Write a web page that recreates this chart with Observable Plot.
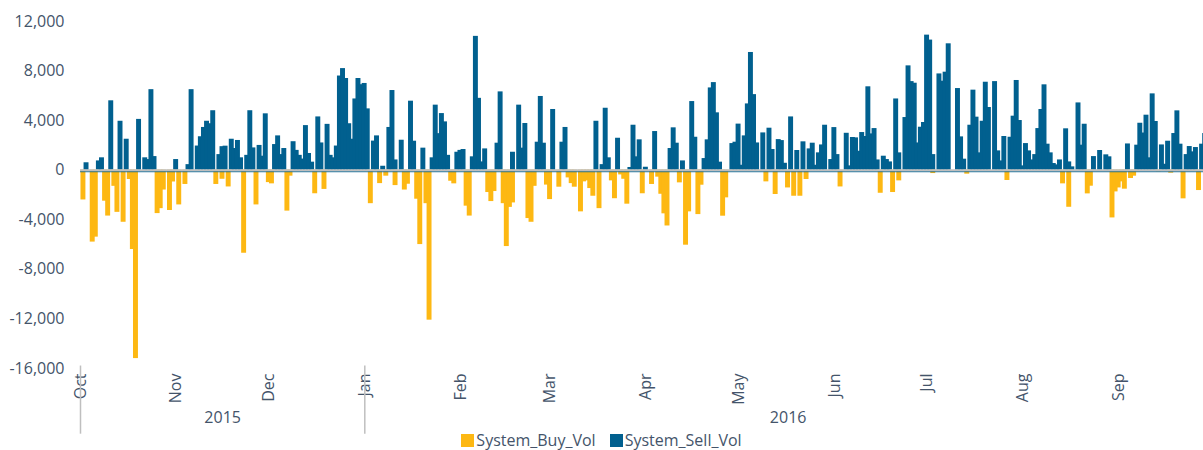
<!DOCTYPE html>
<html><head><meta charset="utf-8">
<script src="https://cdn.jsdelivr.net/npm/d3@7"></script>
<script src="https://cdn.jsdelivr.net/npm/@observablehq/plot@0.6"></script>
<style>
body{margin:0;background:#fff;font-family:"Open Sans",sans-serif;}
#legend{display:flex;justify-content:center;align-items:center;gap:14px;height:20px;font-size:16px;color:#44546a;}
#legend span.item{display:flex;align-items:center;}
.sw{display:inline-block;width:13px;height:13px;margin-right:2px;}
</style></head><body>
<div id="chart"></div>
<div id="legend"></div>
<script>
// Daily values, 1 Oct 2015 .. 30 Sep 2016
const sellVol = [
0,600,0,0,0,750,1000,0,0,5600,
0,0,3950,0,2500,0,0,0,4100,0,
1000,860,6500,1100,0,0,0,0,0,0,
860,0,0,0,450,6500,0,1950,2700,3450,
3950,3750,4800,0,1260,1900,1940,0,2500,1750,
2400,1000,0,1200,4800,1800,0,2000,1130,4550,
0,0,2070,2770,1260,1750,0,0,2300,1600,
1200,900,3600,1350,650,0,4300,2200,0,3700,
1200,1000,1950,7600,8200,7400,3750,2500,5750,7400,
6900,7000,4950,0,2350,2770,0,320,0,3450,
6430,830,0,2420,0,0,5570,2340,0,0,
1780,0,0,1000,5250,2950,4570,3900,1200,0,
0,1450,1600,1670,0,0,1080,10800,5800,670,
1720,0,0,0,2180,6320,0,0,0,1450,
0,5250,1780,3770,0,0,0,2260,5950,2180,
0,0,4900,0,0,2260,3450,0,0,0,
0,0,0,0,0,0,3950,0,450,5000,
1000,0,0,2580,0,0,0,220,3630,1080,
2450,0,240,0,0,3120,0,0,0,0,
1750,3420,2180,0,750,0,0,5540,2660,0,
0,940,2450,6640,7070,4630,650,0,0,0,
2150,2260,3720,400,2770,5350,9500,6100,2200,0,
3010,0,3390,1670,0,2470,2390,560,0,4300,
0,1590,0,2290,0,1720,2180,400,1400,2040,
3630,0,860,3440,1260,0,0,2980,350,2640,
2610,1530,3040,2720,6730,2930,3360,830,0,1130,
860,670,0,5750,1400,0,4250,8420,7150,7020,
2200,3470,3850,10900,10500,1260,0,7770,7180,7910,
10200,0,0,6590,2690,890,0,3630,6460,4280,
1400,3950,7100,5060,0,7150,1560,750,2720,0,
2660,4360,7240,4010,350,2150,1560,830,1260,3360,
4900,6890,2100,1400,540,430,830,0,3340,670,
270,0,5430,2020,3710,0,0,1100,0,1590,
0,1240,1080,0,0,0,0,0,2120,0,
0,2020,3790,3000,4440,1000,6160,3930,0,2040,
480,2340,0,2960,4790,2100,0,1260,1910,1480,
1830,0,2100,2960,0,0
];
const buyVol = [
-2400,0,0,-5800,-5400,0,0,-2500,-3700,0,
-1300,-3400,0,-4200,0,-750,-6400,-15200,0,0,
0,0,0,0,-3500,-3100,-1600,0,-3250,-950,
0,-2800,0,-1150,0,0,0,0,0,0,
0,0,0,-1150,0,-730,0,-1350,0,0,
0,0,-6700,0,0,0,-2800,0,0,0,
-1000,-1100,0,0,0,0,-3300,-480,0,0,
0,0,0,0,0,-1900,0,0,-1550,0,
0,0,0,0,0,0,0,0,0,0,
0,0,0,-2700,0,0,-1080,0,-480,0,
0,-1240,0,0,-1600,-1130,0,0,-2340,-6000,
0,-2700,-12100,0,0,0,0,0,0,-890,
-1100,0,0,0,-2900,-3700,0,0,0,0,
0,-1800,-2530,-1720,0,0,-2700,-6160,-3000,-2640,
0,0,0,0,-3900,-4200,-1300,0,0,0,
-1200,-2370,0,0,-1370,0,0,-620,-1080,-1370,
0,-3360,-940,-860,-1480,-2100,0,-3100,0,0,
0,-860,-2300,0,-380,-730,-2740,0,0,0,
0,-1900,0,0,-1150,0,-560,-1940,-3520,-4500,
0,0,0,-1020,0,-6050,-3360,0,0,-3580,
-1210,0,0,0,0,0,0,-3710,-2230,0,
0,0,0,0,0,0,0,0,0,0,
0,-940,0,0,-1960,0,0,0,-1430,0,
-2100,0,-2100,0,-750,0,0,0,0,0,
0,0,0,0,0,-1350,0,0,0,0,
0,0,0,0,0,0,0,0,-1860,0,
0,0,-1800,0,-860,0,0,0,0,0,
0,0,0,0,0,-270,0,0,0,0,
0,0,0,0,0,0,-320,0,0,0,
0,0,0,0,0,0,0,0,0,-830,
0,0,0,0,0,0,0,0,0,0,
0,0,0,0,0,0,0,-1100,0,-2990,
0,0,0,0,0,-1910,-1290,0,0,0,
0,0,0,-3850,-1750,-1430,-940,-1530,0,-670,
-480,0,0,0,0,0,0,0,-130,0,
0,0,-240,0,0,0,-2310,0,0,0,
0,-1640,0,0,0,0
];
const yTicks = [12000, 8000, 4000, 0, -4000, -8000, -12000, -16000];
const monthLabels = ["Oct","Nov","Dec","Jan","Feb","Mar","Apr","May","Jun","Jul","Aug","Sep"];
const monthStarts = [[2015,9],[2015,10],[2015,11],[2016,0],[2016,1],[2016,2],[2016,3],[2016,4],[2016,5],[2016,6],[2016,7],[2016,8]];
const yearLabels = ["2015", "2016"];
const yearSpans = [[[2015,9],[2016,0]], [[2016,0],[2016,9]]];
const seriesNames = ["System_Buy_Vol", "System_Sell_Vol"];
const colors = {buy: "#fdb813", sell: "#01608f"};

const DAY = 864e5;
const start = Date.UTC(2015, 9, 1);
const rows = sellVol.map((s, i) => ({date: new Date(start + i * DAY), sell: s, buy: buyVol[i]}));
const sellRows = rows.filter(r => r.sell !== 0);
const buyRows = rows.filter(r => r.buy !== 0);
const barX1 = r => new Date(+r.date + 0.15 * DAY);
const barX2 = r => new Date(+r.date + 1.75 * DAY);

const monthDates = monthStarts.map(([y, m]) => new Date(Date.UTC(y, m, 1)));
const monthMap = new Map(monthDates.map((d, i) => [+d, monthLabels[i]]));
const years = yearLabels.map((t, i) => {
  const a = Date.UTC(...yearSpans[i][0], 1), b = Date.UTC(...yearSpans[i][1], 1);
  return {text: t, date: new Date((a + b) / 2)};
});
const seps = [new Date(Date.UTC(2015, 9, 1)), new Date(Date.UTC(2016, 0, 1))];
const fmt = d => d.toLocaleString("en-US");

const chart = Plot.plot({
  width: 1203, height: 430,
  marginTop: 21, marginBottom: 62, marginLeft: 80, marginRight: 0,
  style: {fontFamily: "'Open Sans', sans-serif", fontSize: "16px", color: "#44546a", background: "white", overflow: "visible"},
  x: {type: "utc", domain: [new Date(start), new Date(start + 363.4 * DAY)]},
  y: {domain: [-16000, 12000]},
  marks: [
    Plot.rect(sellRows, {x1: barX1, x2: barX2, y1: 0, y2: "sell", fill: colors.sell}),
    Plot.rect(buyRows, {x1: barX1, x2: barX2, y1: 0, y2: "buy", fill: colors.buy}),
    Plot.ruleY([0], {stroke: colors.sell, strokeWidth: 1, dy: 1.5}),
    Plot.ruleY([0], {stroke: "#bfbfbf", strokeWidth: 2}),
    Plot.axisY({ticks: yTicks, tickSize: 0, tickPadding: 16, tickFormat: fmt, fontSize: 16}),
    Plot.axisX({ticks: monthDates, tickFormat: d => monthMap.get(+d), tickRotate: -90, tickSize: 0, tickPadding: 5, fontSize: 16}),
    Plot.text(years, {x: "date", text: "text", frameAnchor: "bottom", dy: 54, fontSize: 16, fill: "#44546a"}),
    Plot.ruleX(seps, {y1: -15800, y2: -21300, stroke: "#bfbfbf", strokeWidth: 1.5})
  ]
});
document.getElementById("chart").appendChild(chart);

const legend = document.getElementById("legend");
[["buy", seriesNames[0]], ["sell", seriesNames[1]]].forEach(([k, name]) => {
  const it = document.createElement("span");
  it.className = "item";
  it.innerHTML = `<span class="sw" style="background:${colors[k]}"></span>${name}`;
  legend.appendChild(it);
});
</script></body></html>
